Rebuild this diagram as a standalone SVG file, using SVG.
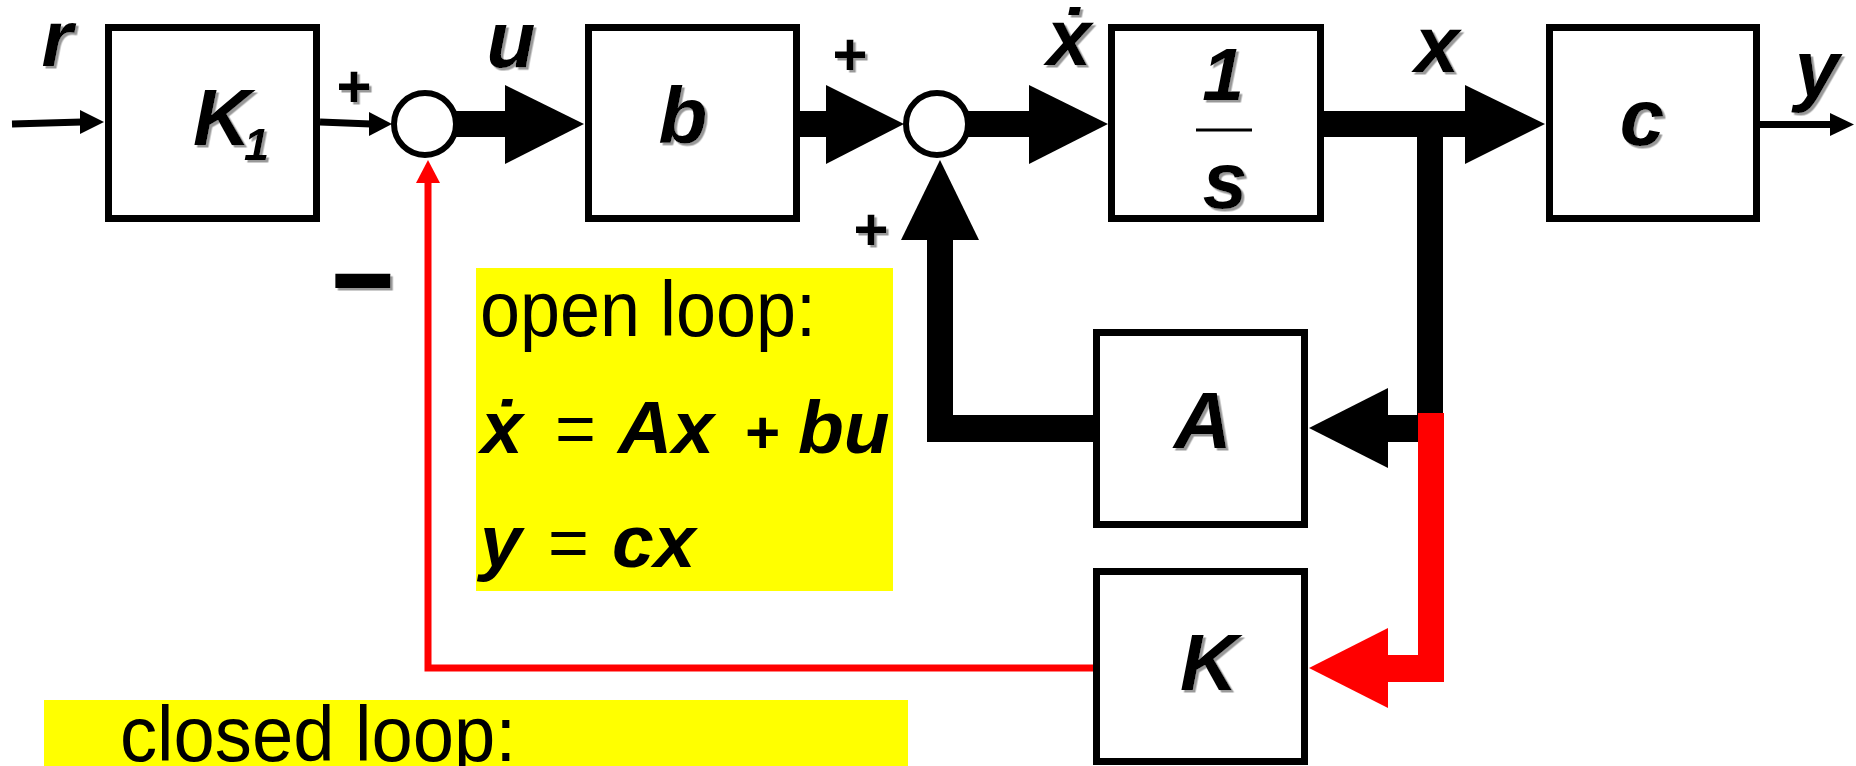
<svg xmlns="http://www.w3.org/2000/svg" width="1856" height="766" viewBox="0 0 1856 766">
<style>
.box{fill:#fff;stroke:#000;stroke-width:7}
.sum{fill:#fff;stroke:#000;stroke-width:6}
.lbl{font-family:"Liberation Sans","DejaVu Sans",sans-serif;font-weight:bold;font-style:italic;font-size:80px;fill:#000;filter:url(#sh)}
.sgn{font-family:"Liberation Sans","DejaVu Sans",sans-serif;font-weight:bold;font-size:60px;fill:#000;filter:url(#sh)}
.txt{font-family:"Liberation Sans","DejaVu Sans",sans-serif;font-size:78px;fill:#000}
.eq{font-family:"Liberation Sans","DejaVu Sans",sans-serif;font-weight:bold;font-style:italic;font-size:75px;fill:#000}
.eqr{font-family:"Liberation Sans","DejaVu Sans",sans-serif;font-size:70px;font-style:normal;font-weight:normal;fill:#000}
.thin{fill:none;stroke:#000;stroke-width:7}
.red{fill:none;stroke:#f00;stroke-width:7}
</style>
<defs>
<filter id="sh" x="-20%" y="-20%" width="150%" height="150%">
<feDropShadow dx="2.5" dy="2.5" stdDeviation="0.6" flood-color="#999" flood-opacity="1"/>
</filter>
</defs>
<rect width="1856" height="766" fill="#fff"/>

<g id="note-open">
<rect x="476" y="268" width="417" height="323" fill="#ff0"/>
<text class="txt" x="480" y="336" textLength="336" lengthAdjust="spacingAndGlyphs">open loop:</text>
<text class="eq" y="453"><tspan x="481">ẋ</tspan><tspan class="eqr" x="555">=</tspan><tspan x="618">Ax</tspan><tspan x="744" style="font-size:60px">+</tspan><tspan x="798">bu</tspan></text>
<text class="eq" y="567"><tspan x="480">y</tspan><tspan class="eqr" x="548">=</tspan><tspan x="612">cx</tspan></text>
</g>
<g id="note-closed">
<rect x="44" y="700" width="864" height="66" fill="#ff0"/>
<text class="txt" x="120" y="761" textLength="396" lengthAdjust="spacingAndGlyphs">closed loop:</text>
</g>

<g id="connectors">
<!-- input r -->
<path class="thin" d="M12,124 L82,122"/>
<polygon points="80,110 104,122 80,134"/>
<!-- K1 to sum1 -->
<path class="thin" d="M320,122 L371,124"/>
<polygon points="369,112 392,124 369,136"/>
<!-- sum1 to b -->
<rect x="456" y="111" width="50" height="26"/>
<polygon points="505,85 584,124 505,164"/>
<!-- b to sum2 -->
<rect x="800" y="111" width="27" height="26"/>
<polygon points="826,85 904,124 826,164"/>
<!-- sum2 to 1/s -->
<rect x="968" y="111" width="62" height="26"/>
<polygon points="1029,85 1108,124 1029,164"/>
<!-- 1/s to c -->
<rect x="1324" y="111" width="142" height="26"/>
<polygon points="1465,85 1545,124 1465,164"/>
<!-- branch down -->
<rect x="1417" y="111" width="26" height="304"/>
<!-- into A -->
<rect x="1387" y="415" width="56" height="27"/>
<polygon points="1388,388 1309,428 1388,468"/>
<!-- A back to sum2 -->
<rect x="927" y="415" width="167" height="27"/>
<rect x="927" y="238" width="26" height="204"/>
<polygon points="901,240 940,160 979,240"/>
<!-- red feedback K path -->
<rect x="1418" y="413" width="26" height="269" fill="#f00"/>
<rect x="1387" y="655" width="57" height="27" fill="#f00"/>
<polygon points="1388,628 1309,668 1388,708" fill="#f00"/>
<path class="red" d="M1093,668 L428,668 L428,182"/>
<polygon points="416,183 428,160 440,183" fill="#f00"/>
<!-- output y -->
<path class="thin" d="M1760,124.5 L1832,124.5"/>
<polygon points="1830,113 1854,124.5 1830,136"/>
</g>

<g id="labels">
<text class="lbl" x="57" y="66" text-anchor="middle">r</text>
<text class="lbl" x="511" y="67" text-anchor="middle">u</text>
<text class="lbl" x="1069" y="65" text-anchor="middle">ẋ</text>
<text class="lbl" x="1437" y="72" text-anchor="middle">x</text>
<text class="lbl" x="1817" y="96" text-anchor="middle">y</text>
<text class="sgn" x="354" y="107" text-anchor="middle">+</text>
<text class="sgn" x="850" y="75" text-anchor="middle">+</text>
<text class="sgn" x="871" y="250" text-anchor="middle">+</text>
<text class="sgn" x="331" y="324" style="font-size:130px" textLength="64" lengthAdjust="spacingAndGlyphs">−</text>
</g>

<g id="K1">
<rect class="box" x="108.5" y="27.5" width="208" height="191"/>
<text class="lbl" x="193" y="145">K</text>
<text class="lbl" x="244" y="160" style="font-size:45px">1</text>
</g>
<g id="sum1">
<circle class="sum" cx="425" cy="124" r="31"/>
</g>
<g id="b">
<rect class="box" x="588.5" y="27.5" width="208" height="191"/>
<text class="lbl" x="683" y="143" text-anchor="middle">b</text>
</g>
<g id="sum2">
<circle class="sum" cx="937" cy="124" r="31"/>
</g>
<g id="integrator">
<rect class="box" x="1111.5" y="27.5" width="209" height="191"/>
<text class="lbl" x="1223" y="100" text-anchor="middle" style="font-size:75px">1</text>
<line x1="1196" y1="130" x2="1252" y2="130" stroke="#000" stroke-width="3"/>
<text class="lbl" x="1225" y="208" text-anchor="middle">s</text>
</g>
<g id="c">
<rect class="box" x="1549.5" y="27.5" width="207" height="191"/>
<text class="lbl" x="1642" y="145" text-anchor="middle">c</text>
</g>
<g id="A">
<rect class="box" x="1096.5" y="332.5" width="208" height="192"/>
<text class="lbl" x="1203" y="448" text-anchor="middle">A</text>
</g>
<g id="K">
<rect class="box" x="1096.5" y="571.5" width="208" height="190"/>
<text class="lbl" x="1209" y="690" text-anchor="middle">K</text>
</g>
</svg>
